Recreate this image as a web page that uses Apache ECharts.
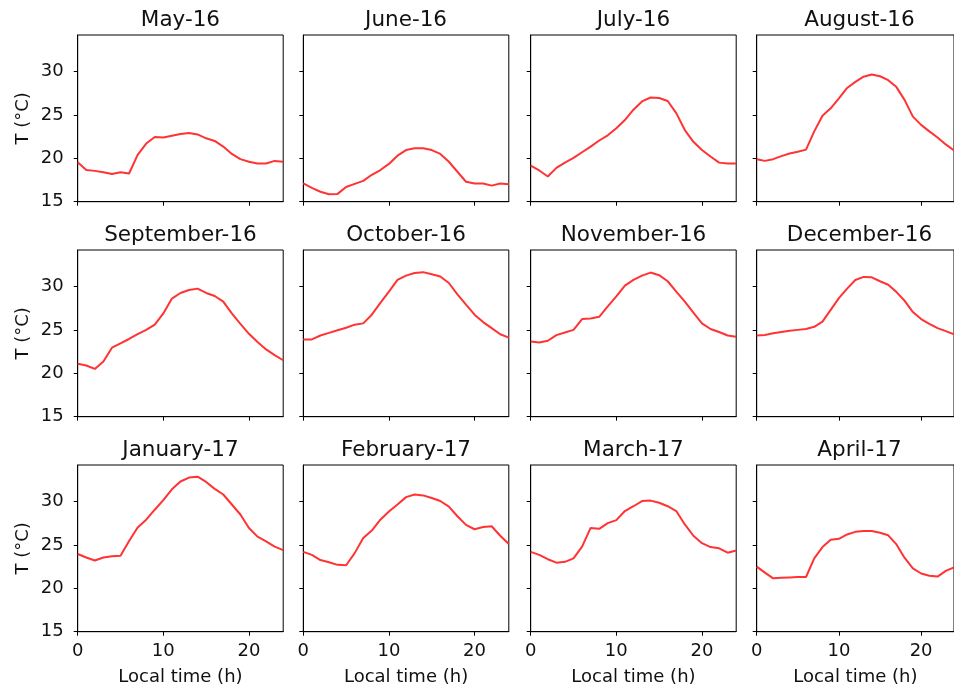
<!DOCTYPE html>
<html>
<head>
<meta charset="utf-8">
<script src="https://cdn.jsdelivr.net/npm/echarts@6/dist/echarts.min.js"></script>
<style>
  html, body { margin: 0; padding: 0; background: #fff; }
  #chart { width: 954px; height: 693px; }
</style>
</head>
<body>
<div id="chart"></div>
<script>
// Mean diurnal temperature cycle, one panel per month
const months = ['May-16', 'June-16', 'July-16', 'August-16',
                'September-16', 'October-16', 'November-16', 'December-16',
                'January-17', 'February-17', 'March-17', 'April-17'];

const hours = [0, 1, 2, 3, 4, 5, 6, 7, 8, 9, 10, 11, 12,
               13, 14, 15, 16, 17, 18, 19, 20, 21, 22, 23, 24];

const tMay16 = [19.55, 18.65, 18.55, 18.4, 18.2, 18.4, 18.25, 20.4, 21.7, 22.45, 22.4, 22.6, 22.8,
                22.9, 22.75, 22.3, 22.0, 21.35, 20.5, 19.9, 19.6, 19.4, 19.4, 19.7, 19.6];
const tJun16 = [17.1, 16.6, 16.15, 15.85, 15.9, 16.7, 17.05, 17.4, 18.1, 18.65, 19.35, 20.3, 20.95,
                21.15, 21.15, 20.95, 20.5, 19.6, 18.45, 17.3, 17.1, 17.1, 16.85, 17.1, 17.0];
const tJul16 = [19.15, 18.6, 17.9, 18.9, 19.5, 20.05, 20.7, 21.35, 22.05, 22.65, 23.45, 24.4, 25.6,
                26.55, 27.0, 26.95, 26.6, 25.2, 23.25, 21.9, 20.95, 20.2, 19.5, 19.4, 19.4];
const tAug16 = [19.9, 19.7, 19.9, 20.25, 20.55, 20.75, 21.0, 23.1, 24.9, 25.75, 26.9, 28.1, 28.8,
                29.4, 29.65, 29.45, 29.0, 28.2, 26.7, 24.8, 23.85, 23.1, 22.4, 21.6, 20.9];
const tSep16 = [21.1, 20.9, 20.5, 21.35, 22.95, 23.45, 23.95, 24.5, 25.0, 25.6, 26.9, 28.6, 29.25,
                29.6, 29.75, 29.25, 28.9, 28.25, 26.9, 25.7, 24.55, 23.6, 22.75, 22.1, 21.5];
const tOct16 = [23.9, 23.9, 24.35, 24.65, 24.95, 25.25, 25.6, 25.75, 26.75, 28.1, 29.4, 30.75, 31.25,
                31.55, 31.65, 31.4, 31.15, 30.4, 29.1, 27.9, 26.75, 25.9, 25.2, 24.5, 24.1];
const tNov16 = [23.65, 23.55, 23.75, 24.4, 24.7, 25.0, 26.25, 26.3, 26.5, 27.7, 28.85, 30.1, 30.75,
                31.25, 31.6, 31.3, 30.6, 29.4, 28.25, 27.0, 25.75, 25.1, 24.75, 24.35, 24.2];
const tDec16 = [24.35, 24.4, 24.6, 24.75, 24.9, 25.0, 25.1, 25.35, 25.95, 27.3, 28.65, 29.75, 30.75,
                31.1, 31.05, 30.6, 30.2, 29.35, 28.35, 27.05, 26.25, 25.7, 25.2, 24.85, 24.5];
const tJan17 = [23.95, 23.55, 23.2, 23.55, 23.7, 23.75, 25.45, 27.0, 27.9, 29.05, 30.15, 31.4, 32.3,
                32.75, 32.85, 32.25, 31.45, 30.8, 29.65, 28.5, 26.95, 25.95, 25.4, 24.8, 24.4];
const tFeb17 = [24.2, 23.85, 23.25, 23.0, 22.7, 22.65, 24.05, 25.8, 26.65, 27.9, 28.85, 29.65, 30.5,
                30.8, 30.7, 30.4, 30.05, 29.4, 28.3, 27.3, 26.8, 27.05, 27.15, 26.05, 25.1];
const tMar17 = [24.2, 23.85, 23.35, 22.95, 23.05, 23.45, 24.8, 26.95, 26.85, 27.5, 27.85, 28.9, 29.45,
                30.05, 30.1, 29.85, 29.45, 28.9, 27.35, 26.05, 25.2, 24.75, 24.6, 24.1, 24.35];
const tApr17 = [22.5, 21.8, 21.15, 21.2, 21.25, 21.3, 21.3, 23.45, 24.75, 25.6, 25.7, 26.2, 26.5,
                26.6, 26.6, 26.4, 26.1, 25.05, 23.5, 22.3, 21.7, 21.45, 21.35, 22.0, 22.4];

const temps = [tMay16, tJun16, tJul16, tAug16, tSep16, tOct16,
               tNov16, tDec16, tJan17, tFeb17, tMar17, tApr17];

const xTicks = [0, 10, 20];
const yTicks = [15, 20, 25, 30];

const FONT = 'DejaVu Sans';
const colLeft = [77.7, 303.3, 530.7, 756.7];
const rowTop = [35, 250, 465];
const panelW = 205.5;
const panelH = 166.7;

const grids = [], xAxes = [], yAxes = [], series = [], titles = [];

months.forEach((name, i) => {
  const col = i % 4, row = Math.floor(i / 4);
  const left = colLeft[col], top = rowTop[row];
  grids.push({
    left: left, top: top, width: panelW, height: panelH,
    show: true, borderColor: '#000', borderWidth: 1, backgroundColor: 'transparent'
  });
  titles.push({
    text: name, left: left + panelW / 2, top: top - 26, textAlign: 'center', padding: 0,
    textStyle: { fontFamily: FONT, fontSize: 21.5, fontWeight: 'normal', color: '#111' }
  });
  const bottomRow = row === 2, firstCol = col === 0;
  xAxes.push({
    type: 'value', gridIndex: i, min: 0, max: 24,
    axisLine: { show: true, onZero: false, lineStyle: { color: '#000', width: 1 } },
    axisTick: { show: true, inside: false, length: 4, customValues: xTicks,
                lineStyle: { color: '#000', width: 1 } },
    axisLabel: { show: bottomRow, customValues: xTicks, margin: 11,
                 fontFamily: FONT, fontSize: 18, color: '#111' },
    splitLine: { show: false },
    name: bottomRow ? 'Local time (h)' : '',
    nameLocation: 'middle', nameGap: 37,
    nameTextStyle: { fontFamily: FONT, fontSize: 18, color: '#111' }
  });
  yAxes.push({
    type: 'value', gridIndex: i, min: 15, max: 34.2,
    axisLine: { show: true, onZero: false, lineStyle: { color: '#000', width: 1 } },
    axisTick: { show: true, inside: false, length: 4, customValues: yTicks,
                lineStyle: { color: '#000', width: 1 } },
    axisLabel: { show: firstCol, customValues: yTicks, margin: 14,
                 fontFamily: FONT, fontSize: 18, color: '#111' },
    splitLine: { show: false },
    name: firstCol ? 'T (°C)' : '',
    nameLocation: 'middle', nameGap: 45,
    nameTextStyle: { fontFamily: FONT, fontSize: 18, color: '#111' }
  });
  series.push({
    type: 'line', xAxisIndex: i, yAxisIndex: i,
    data: hours.map((h, k) => [h, temps[i][k]]),
    showSymbol: false, symbol: 'none', smooth: false,
    lineStyle: { color: '#ff3333', width: 2 },
    z: 3
  });
});

const chart = echarts.init(document.getElementById('chart'), null, { renderer: 'canvas' });
chart.setOption({
  animation: false,
  backgroundColor: '#fff',
  title: titles,
  grid: grids,
  xAxis: xAxes,
  yAxis: yAxes,
  series: series
});
</script>
</body>
</html>
